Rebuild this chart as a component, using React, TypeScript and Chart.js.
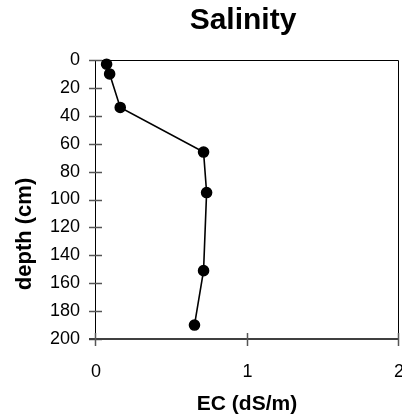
import React, { useEffect, useRef } from "react";
import { Chart, registerables } from "chart.js";

Chart.register(...registerables);

const titleText = "Salinity";
const xTitle = "EC (dS/m)";
const yTitle = "depth (cm)";
const ecValues = [0.07, 0.09, 0.16, 0.71, 0.73, 0.71, 0.65];
const depthValues = [3, 10, 34, 66, 95, 151, 190];
const xTickValues = [0, 1, 2];
const yTickValues = [0, 20, 40, 60, 80, 100, 120, 140, 160, 180, 200];

const FONT = "'Liberation Sans', Arial, sans-serif";
const PLOT_RIGHT = 399;

const decorPlugin = {
  id: "decor",
  afterLayout(chart: any) {
    const x = chart.scales.x;
    chart.chartArea.right = PLOT_RIGHT;
    chart.chartArea.width = PLOT_RIGHT - chart.chartArea.left;
    x.right = PLOT_RIGHT;
    x.width = PLOT_RIGHT - x.left;
    x.configure();
  },
  beforeDatasetsDraw(chart: any) {
    const { ctx, chartArea, scales } = chart;
    const { left, right, top, bottom } = chartArea;
    ctx.save();
    ctx.strokeStyle = "#000";
    ctx.lineWidth = 1;
    ctx.beginPath();
    ctx.moveTo(left, top + 0.5);
    ctx.lineTo(right - 0.5, top + 0.5);
    ctx.lineTo(right - 0.5, bottom);
    ctx.stroke();
    ctx.beginPath();
    ctx.moveTo(left - 0.5, top);
    ctx.lineTo(left - 0.5, bottom + 6);
    ctx.stroke();
    ctx.strokeStyle = "#555";
    ctx.lineWidth = 1.5;
    for (const v of yTickValues) {
      const y = Math.round(scales.y.getPixelForValue(v)) + 0.5;
      ctx.beginPath();
      ctx.moveTo(left - 7, y);
      ctx.lineTo(left + 6, y);
      ctx.stroke();
    }
    ctx.strokeStyle = "#404040";
    ctx.lineWidth = 2;
    ctx.beginPath();
    ctx.moveTo(left - 7, bottom);
    ctx.lineTo(right, bottom);
    ctx.stroke();
    ctx.strokeStyle = "#555";
    ctx.lineWidth = 1.5;
    for (const v of xTickValues) {
      const x = Math.round(scales.x.getPixelForValue(v)) - 0.5;
      ctx.beginPath();
      ctx.moveTo(x, bottom - 6);
      ctx.lineTo(x, bottom + 7);
      ctx.stroke();
    }
    ctx.restore();
  },
  afterDraw(chart: any) {
    const { ctx } = chart;
    ctx.save();
    ctx.fillStyle = "#000";
    ctx.textAlign = "center";
    ctx.textBaseline = "alphabetic";
    ctx.font = `bold 30px ${FONT}`;
    ctx.fillText(titleText, 243, 29);
    ctx.font = `bold 21px ${FONT}`;
    ctx.fillText(xTitle, 247, 410);
    ctx.font = `bold 22px ${FONT}`;
    ctx.translate(31, 234);
    ctx.rotate(-Math.PI / 2);
    ctx.fillText(yTitle, 0, 0);
    ctx.restore();
  },
};

export default function App() {
  const ref = useRef<HTMLCanvasElement>(null);
  useEffect(() => {
    if (!ref.current) return;
    const chart = new Chart(ref.current, {
      type: "scatter",
      data: {
        datasets: [
          {
            data: ecValues.map((x, i) => ({ x, y: depthValues[i] })),
            showLine: true,
            borderColor: "#000",
            backgroundColor: "#000",
            borderWidth: 1.6,
            pointRadius: 5,
            pointBackgroundColor: "#000",
            pointBorderColor: "#000",
            clip: false,
          } as any,
        ],
      },
      options: {
        animation: false,
        responsive: false,
        maintainAspectRatio: false,
        layout: { padding: { top: 60, right: 0, left: 0, bottom: 0 } },
        plugins: {
          legend: { display: false },
          title: { display: false },
          tooltip: { enabled: false },
        },
        scales: {
          x: {
            type: "linear",
            min: 0,
            max: 2,
            afterFit: (s: any) => {
              s.height = 75;
              s.paddingLeft = 0;
              s.paddingRight = 0;
            },
            afterBuildTicks: (s: any) => {
              s.ticks = xTickValues.map((v) => ({ value: v }));
            },
            grid: { display: false, drawTicks: false },
            border: { display: false },
            ticks: {
              padding: 22,
              color: "#000",
              font: { family: FONT, size: 18 },
              maxRotation: 0,
              autoSkip: false,
            },
          },
          y: {
            type: "linear",
            min: 0,
            max: 200,
            reverse: true,
            afterFit: (s: any) => {
              s.width = 96;
              s.paddingTop = 0;
              s.paddingBottom = 0;
            },
            afterBuildTicks: (s: any) => {
              s.ticks = yTickValues.map((v) => ({ value: v }));
            },
            grid: { display: false, drawTicks: false },
            border: { display: false },
            ticks: {
              padding: 16,
              color: "#000",
              font: { family: FONT, size: 18 },
              autoSkip: false,
            },
          },
        },
      },
      plugins: [decorPlugin],
    });
    return () => chart.destroy();
  }, []);
  return (
    <div style={{ position: "absolute", left: 0, top: 0, width: 402, height: 414, background: "#fff" }}>
      <canvas ref={ref} width={402} height={414} style={{ width: 402, height: 414, display: "block" }} />
    </div>
  );
}
